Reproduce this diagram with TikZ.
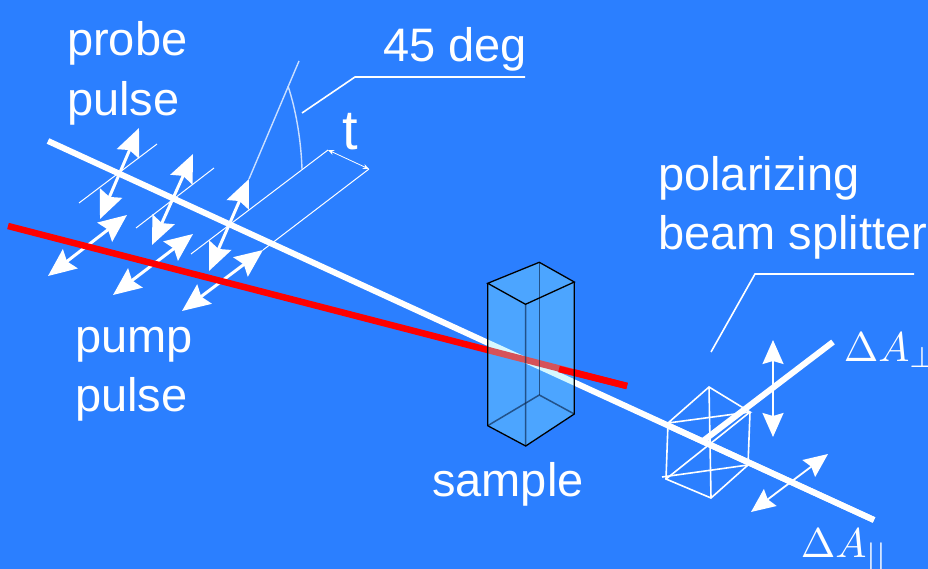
\documentclass[tikz,border=0pt]{standalone}
\usepackage{fontspec}
\setmainfont{Liberation Sans}
\usepackage{tikz}
\usetikzlibrary{calc,arrows.meta}
\definecolor{bgblue}{RGB}{43,127,255}
\definecolor{samplefill}{RGB}{138,237,255}
\tikzset{
  beam/.style={draw=white, line width=6pt},
  pumpbeam/.style={draw=red, line width=6.5pt},
  thinwire/.style={draw=white, line width=1pt},
  faintwire/.style={draw=white!75!bgblue, line width=1.4pt},
  leader/.style={draw=white, line width=1.6pt},
  polar/.style={draw=white, line width=3pt, {Stealth[length=28pt,width=24pt,inset=4pt]}-{Stealth[length=28pt,width=24pt,inset=4pt]}},
  smallpolar/.style={draw=white, line width=1.8pt, {Stealth[length=24pt,width=21pt,inset=3pt]}-{Stealth[length=24pt,width=21pt,inset=3pt]}},
  cubewire/.style={draw=white, line width=1.6pt},
  edge/.style={draw=black, line width=1.3pt},
  hiddenedge/.style={draw=black!70!bgblue, draw opacity=0.65, line width=1.5pt},
  label/.style={text=white, anchor=base west, inner sep=0pt, font=\fontsize{47}{50}\selectfont},
  mathlabel/.style={text=white, anchor=base west, inner sep=0pt, scale=4.15}
}
\begin{document}
\begin{tikzpicture}[x=1pt,y=-1pt]
  \fill[bgblue] (0,0) rectangle (928,569);
  \useasboundingbox (0,0) rectangle (928,569);
  % beam ends
  \coordinate (probestart) at (48,141);
  \coordinate (probeend) at (874,520);
  \coordinate (pumpstart) at (8,226);
  \coordinate (pumpmid) at (559,369);
  \coordinate (pumpend) at (627,386);
  \coordinate (split) at (703,441);
  \coordinate (perpend) at (833,342);
  % thin construction lines
  \coordinate (front) at (328,150);
  \coordinate (back) at (369,169);
  \draw[thinwire] (157,144) -- (79,203);
  \draw[thinwire] (214,168) -- (136,228);
  \draw[thinwire] (front) -- (191,254);
  \draw[thinwire] (back) -- (263,250);
  \draw[faintwire] (299,61) -- (249,179);
  \draw[faintwire] (288,86) .. controls (296,110) and (301,140) .. (302,169);
  \draw[thinwire, line width=0.8pt, {Stealth[length=6pt,width=5pt]}-{Stealth[length=6pt,width=5pt]}] (front) -- (back);
  \draw[leader] (302,113) -- (355,77) -- (525,77);
  \draw[leader] (711,352) -- (755,274) -- (914,274);
  % probe polarization
  \draw[polar] (100,219) -- (139,128);
  \draw[polar] (152,245) -- (193,154);
  \draw[polar] (209,271) -- (249,179);
  % pump polarization
  \draw[polar] (48,276) -- (127,215);
  \draw[polar] (113,295) -- (193,234);
  \draw[polar] (182,311) -- (263,250);
  % beams
  \draw[beam] (probestart) -- (probeend);
  \draw[pumpbeam] (pumpstart) -- (pumpend);
  % sample
  \coordinate (topback) at (539.3,262.3);
  \coordinate (topleft) at (487.7,283.3);
  \coordinate (topright) at (574.3,282);
  \coordinate (topfront) at (525.5,304.3);
  \coordinate (botleft) at (487.7,425.7);
  \coordinate (botfront) at (525.7,446);
  \coordinate (botright) at (574.3,414);
  \coordinate (botback) at (539.3,395);
  \fill[samplefill, fill opacity=0.35] (topleft) -- (topback) -- (topright) -- (botright) -- (botfront) -- (botleft) -- cycle;
  \draw[pumpbeam] (pumpmid) -- (pumpend);
  \draw[hiddenedge] (topback) -- (botback);
  \draw[hiddenedge] (botleft) -- (botback) -- (botright);
  \draw[hiddenedge] (topfront) -- (botfront);
  \draw[edge] (topfront) -- (topleft) -- (topback) -- (topright) -- cycle;
  \draw[edge] (topleft) -- (botleft) -- (botfront) -- (botright) -- (topright);
  % beam splitter
  \coordinate (cubetop) at (709,387);
  \coordinate (cubeleft) at (668,423);
  \coordinate (cuberight) at (750,412);
  \coordinate (cubebotleft) at (666,479);
  \coordinate (cubebotright) at (748,465);
  \coordinate (cubebot) at (711,498);
  \draw[cubewire] (cubeleft) -- (cubetop) -- (cuberight) -- (cubeleft);
  \draw[cubewire] (cubeleft) -- (cubebotleft) -- (cubebot) -- (cubebotright) -- (cuberight);
  \draw[cubewire] (cubetop) -- (cubebot);
  \draw[cubewire] (662,477) -- (cubebotright);
  \draw[cubewire] (cubebotleft) -- (cuberight);
  \draw[beam] (split) -- (perpend);
  \draw[beam] (probeend) -- ($(probeend)!0.25!(probestart)$);
  \draw[smallpolar] (773,437) -- (773,340);
  \draw[smallpolar] (751,512) -- (828,454);
  % labels
  \node[label] (probe) at (67,56) {probe};
  \node[label] (probepulse) at (67,116) {pulse};
  \node[label] (pump) at (75,352) {pump};
  \node[label] (pumppulse) at (75,411) {pulse};
  \node[label] (angle) at (383,62) {45 deg};
  \node[label, font=\fontsize{56}{60}\selectfont] (delay) at (342,150) {t};
  \node[label] (polarizing) at (658,191) {polarizing};
  \node[label] (splitter) at (658,249) {beam splitter};
  \node[label] (sample) at (432,496) {sample};
  \node[mathlabel] (perp) at (843,361) {$\Delta A_{\perp}$};
  \node[mathlabel] (para) at (800,557) {$\Delta A_{||}$};
\end{tikzpicture}
\end{document}
